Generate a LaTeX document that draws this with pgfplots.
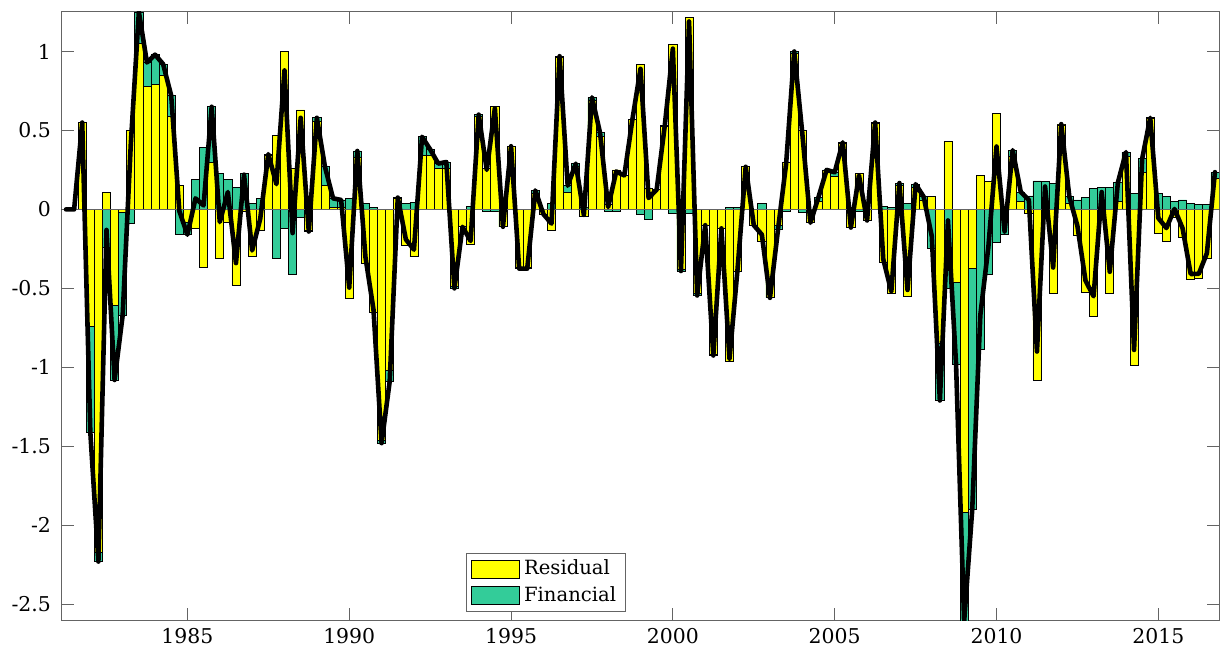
\documentclass[border=0pt]{standalone}
\usepackage{fontspec}
\setmainfont{DejaVu Serif}
\usepackage{pgfplots}
\pgfplotsset{compat=1.18}
\usepackage{pgfplotstable}
\definecolor{fgreen}{RGB}{51,204,153}
\definecolor{fyellow}{RGB}{255,255,0}
\definecolor{axgray}{RGB}{100,100,100}

\pgfplotstableread{
t res gtop tot
1981.25 0 0 0
1981.5 0 0 0
1981.75 0.55 0.55 0.55
1982 -0.74 -1.41 -1.41
1982.25 -2.17 -2.23 -2.23
1982.5 0.11 -0.24 -0.13
1982.75 -0.61 -1.08 -1.08
1983 -0.02 -0.67 -0.67
1983.25 0.50 -0.09 0.41
1983.5 1.05 1.25 1.25
1983.75 0.78 0.93 0.93
1984 0.79 0.98 0.98
1984.25 0.85 0.92 0.92
1984.5 0.59 0.72 0.72
1984.75 0.15 -0.16 -0.01
1985 -0.08 -0.16 -0.16
1985.25 -0.12 0.19 0.07
1985.5 -0.365 0.39 0.025
1985.75 0.30 0.65 0.65
1986 -0.31 0.23 -0.08
1986.25 -0.08 0.19 0.11
1986.5 -0.48 0.14 -0.34
1986.75 -0.01 0.23 0.22
1987 -0.30 0.04 -0.26
1987.25 -0.13 0.07 -0.06
1987.5 0.34 0.35 0.35
1987.75 0.47 -0.31 0.16
1988 1.00 -0.12 0.88
1988.25 0.26 -0.41 -0.15
1988.5 0.63 -0.05 0.58
1988.75 -0.13 -0.14 -0.14
1989 0.56 0.58 0.58
1989.25 0.15 0.27 0.27
1989.5 0.01 0.07 0.07
1989.75 0.01 0.06 0.06
1990 -0.565 0.07 -0.495
1990.25 0.33 0.37 0.37
1990.5 -0.34 0.04 -0.30
1990.75 -0.65 0.015 -0.635
1991 -1.46 -1.48 -1.48
1991.25 -1.02 -1.09 -1.09
1991.5 0.07 0.075 0.075
1991.75 -0.23 0.04 -0.19
1992 -0.30 0.045 -0.255
1992.25 0.34 0.46 0.46
1992.5 0.34 0.38 0.38
1992.75 0.26 0.29 0.29
1993 0.26 0.30 0.30
1993.25 -0.49 -0.50 -0.50
1993.5 -0.11 -0.11 -0.11
1993.75 -0.22 0.02 -0.20
1994 0.59 0.60 0.60
1994.25 0.26 -0.01 0.25
1994.5 0.65 -0.01 0.64
1994.75 -0.11 -0.11 -0.11
1995 0.40 0.40 0.40
1995.25 -0.365 -0.375 -0.375
1995.5 -0.365 -0.375 -0.375
1995.75 0.10 0.12 0.12
1996 -0.03 -0.03 -0.03
1996.25 -0.13 0.04 -0.09
1996.5 0.96 0.97 0.97
1996.75 0.105 0.15 0.15
1997 0.27 0.29 0.29
1997.25 -0.045 0.01 -0.035
1997.5 0.69 0.71 0.71
1997.75 0.46 0.485 0.485
1998 0.03 -0.015 0.015
1998.25 0.25 -0.013 0.24
1998.5 0.215 0.215 0.215
1998.75 0.57 0.57 0.57
1999 0.92 -0.03 0.89
1999.25 0.135 -0.063 0.072
1999.5 0.125 0.125 0.125
1999.75 0.525 0.53 0.53
2000 1.045 -0.027 1.018
2000.25 -0.38 -0.39 -0.39
2000.5 1.215 -0.027 1.19
2000.75 -0.53 -0.545 -0.545
2001 -0.10 -0.10 -0.10
2001.25 -0.92 -0.925 -0.925
2001.5 -0.12 -0.12 -0.12
2001.75 -0.96 0.015 -0.945
2002 -0.39 0.015 -0.375
2002.25 0.27 0.27 0.27
2002.5 -0.10 -0.10 -0.10
2002.75 -0.20 0.04 -0.16
2003 -0.555 -0.56 -0.56
2003.25 -0.10 -0.125 -0.125
2003.5 0.30 -0.01 0.29
2003.75 0.99 1.00 1.00
2004 0.50 -0.02 0.48
2004.25 -0.085 -0.085 -0.085
2004.5 0.05 0.078 0.078
2004.75 0.245 0.25 0.25
2005 0.21 0.235 0.235
2005.25 0.42 0.425 0.425
2005.5 -0.115 -0.115 -0.115
2005.75 0.225 -0.01 0.215
2006 -0.07 -0.07 -0.07
2006.25 0.545 0.55 0.55
2006.5 -0.335 0.02 -0.315
2006.75 -0.535 0.015 -0.52
2007 0.15 0.167 0.167
2007.25 -0.55 0.04 -0.51
2007.5 0.14 0.16 0.16
2007.75 0.06 0.08 0.08
2008 0.08 -0.25 -0.17
2008.25 -0.85 -1.21 -1.21
2008.5 0.43 -0.50 -0.07
2008.75 -0.465 -0.98 -0.98
2009 -1.92 -2.61 -2.61
2009.25 -0.375 -1.90 -1.90
2009.5 0.215 -0.885 -0.67
2009.75 0.175 -0.41 -0.235
2010 0.605 -0.207 0.398
2010.25 0.02 -0.16 -0.14
2010.5 0.335 0.375 0.375
2010.75 0.05 0.11 0.11
2011 -0.025 0.085 0.06
2011.25 -1.08 0.18 -0.90
2011.5 -0.03 0.175 0.145
2011.75 -0.535 0.167 -0.368
2012 0.535 0.54 0.54
2012.25 0.04 0.08 0.08
2012.5 -0.165 0.06 -0.105
2012.75 -0.525 0.074 -0.451
2013 -0.68 0.13 -0.55
2013.25 -0.03 0.14 0.11
2013.5 -0.535 0.14 -0.395
2013.75 0.05 0.17 0.17
2014 0.335 0.363 0.363
2014.25 -0.99 0.10 -0.89
2014.5 0.235 0.32 0.32
2014.75 0.575 0.58 0.58
2015 -0.155 0.10 -0.055
2015.25 -0.20 0.082 -0.118
2015.5 -0.05 0.053 0.003
2015.75 -0.18 0.06 -0.12
2016 -0.445 0.036 -0.409
2016.25 -0.44 0.032 -0.408
2016.5 -0.31 0.032 -0.278
2016.75 0.195 0.236 0.236
}\datatab

\begin{document}
\begin{tikzpicture}
\useasboundingbox (-31pt,-19.5pt) rectangle (579pt,310pt);
\begin{axis}[
  at={(0pt,0pt)}, anchor=south west,
  scale only axis, width=578.5pt, height=304pt,
  xmin=1981.125, xmax=2016.875, ymin=-2.6, ymax=1.25,
  xtick={1985,1990,1995,2000,2005,2010,2015},
  xticklabels={1985,1990,1995,2000,2005,2010,2015},
  ytick={-2.5,-2,-1.5,-1,-0.5,0,0.5,1},
  yticklabels={-2.5,-2,-1.5,-1,-0.5,0,0.5,1},
  tick align=inside, major tick length=5.8pt,
  axis line style={axgray, line width=0.5pt},
  tick style={axgray, line width=0.5pt},
  tick label style={font=\fontsize{10.2}{12}\selectfont, black},
  yticklabel style={xshift=-2pt},
  xticklabel style={yshift=-0.5pt},
  legend style={at={(0.349,0.0132)}, anchor=south west,
    draw=axgray, line width=0.5pt, fill=white,
    font=\fontsize{9.8}{11.5}\selectfont,
    inner xsep=2.5pt, inner ysep=1.5pt, row sep=0.3pt},
  legend cell align=left,
]
\addplot[ybar, bar width=0.25, bar shift=0pt, fill=fgreen, draw=black, line width=0.4pt, forget plot]
  table[x=t, y=gtop]{\datatab};
\addplot[ybar, bar width=0.25, bar shift=0pt, fill=fyellow, draw=black, line width=0.4pt, forget plot]
  table[x=t, y=res]{\datatab};
\addplot[axgray, line width=0.5pt, forget plot] coordinates {(1981.125,0) (2016.875,0)};
\addplot[black, line width=2.3pt, line join=round, line cap=round, forget plot]
  table[x=t, y=tot]{\datatab};
\addlegendimage{legend image code/.code={\draw[fill=fyellow, draw=black, line width=0.4pt] (0pt,-4.5pt) rectangle (24pt,4.5pt);}}
\addlegendentry{Residual}
\addlegendimage{legend image code/.code={\draw[fill=fgreen, draw=black, line width=0.4pt] (0pt,-4.5pt) rectangle (24pt,4.5pt);}}
\addlegendentry{Financial}
\end{axis}
\end{tikzpicture}
\end{document}
